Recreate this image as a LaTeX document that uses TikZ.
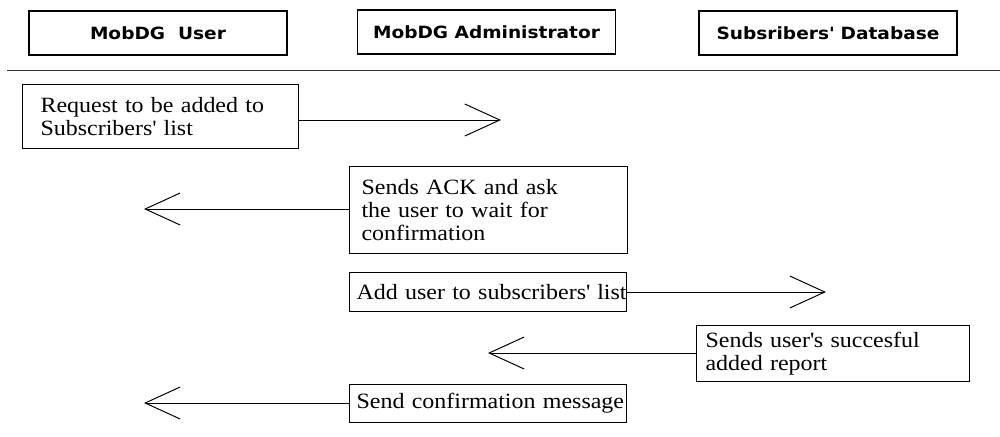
\documentclass[tikz,border=0pt]{standalone}
\usepackage{fontspec}
\setmainfont{Liberation Serif}[FakeStretch=1.1]
\newfontfamily\headfont{DejaVu Sans}[FakeStretch=1.1]
\usepackage{tikz}
\usetikzlibrary{arrows.meta,positioning,calc}
\newcommand{\sq}{\textquotesingle}

\begin{document}
\begin{tikzpicture}[x=0.025cm, y=-0.025cm,
  every node/.style={font=\fontsize{15.5}{16.3}\selectfont},
  lifebox/.style={draw, line width=0.8pt, minimum width=6.45cm, minimum height=1.1cm,
    inner sep=0pt, font=\headfont\bfseries\fontsize{12}{14}\selectfont},
  msgbox/.style={draw, line width=0.8pt, anchor=north west, align=left, inner ysep=0pt},
  msg/.style={line width=0.7pt, -{Straight Barb[length=0.875cm, width=0.8cm, line width=0.7pt]}}]
\useasboundingbox (0,0) rectangle (1000,436);
% ---- header: the three parties
\node[lifebox] (user)  at (158,33)   {MobDG\ \ User};
\node[lifebox] (admin) at (486.5,32) {MobDG Administrator};
\node[lifebox] (db)    at (828,33)   {Subsribers\sq{} Database};
\draw[line width=0.7pt, black!80] (7,70) -- (1000,70);
% ---- messages
\node[msgbox, inner xsep=0.45cm, text width=6.0cm, minimum height=1.6cm] (m1) at (22,84)
  {Request to be added to\\Subscribers\sq{} list};
\node[msgbox, inner xsep=0.3cm, text width=6.35cm, minimum height=2.175cm] (m2) at (349,166)
  {Sends ACK and ask\\the user to wait for\\confirmation};
\node[msgbox, inner xsep=0.175cm, text width=6.575cm, minimum height=0.975cm] (m3) at (349,272)
  {\mbox{Add user to subscribers\sq{} list}};
\node[msgbox, inner xsep=0.225cm, text width=6.375cm, minimum height=1.4cm] (m4) at (696,325)
  {Sends user\sq{}s succesful\\added report};
\node[msgbox, inner xsep=0.175cm, text width=6.575cm, minimum height=0.95cm] (m5) at (349,384)
  {\mbox{Send confirmation message}};
% ---- arrow ends
\coordinate (t1) at (501,120);
\coordinate (t2) at (144,209);
\coordinate (t3) at (826,292);
\coordinate (t4) at (488,353);
\coordinate (t5) at (144,403);
\draw[msg] (m1.east |- t1) -- (t1);
\draw[msg] (m2.west |- t2) -- (t2);
\draw[msg] (m3.east |- t3) -- (t3);
\draw[msg] (m4.west |- t4) -- (t4);
\draw[msg] (m5.west |- t5) -- (t5);
\end{tikzpicture}
\end{document}
